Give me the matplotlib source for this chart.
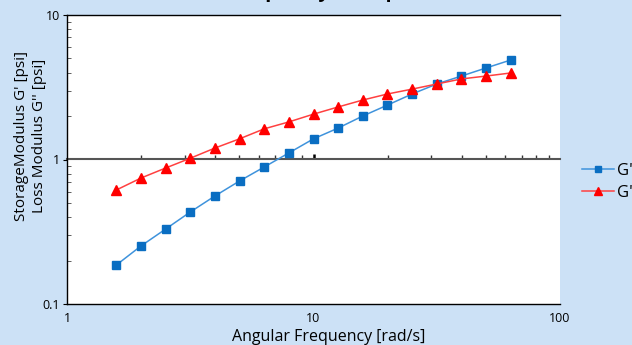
import numpy as np
import matplotlib
matplotlib.use('Agg')
import matplotlib.pyplot as plt
from matplotlib.ticker import LogLocator, NullFormatter

plt.rcParams['font.family'] = ['Open Sans', 'DejaVu Sans']

# angular frequency, rad/s
freq = [1.585, 1.995, 2.512, 3.162, 3.981, 5.012, 6.310, 7.943, 10.0,
        12.59, 15.85, 19.95, 25.12, 31.62, 39.81, 50.12, 63.10]
# storage modulus G', psi
g_storage = [0.186, 0.252, 0.330, 0.433, 0.559, 0.710, 0.887, 1.11, 1.39,
             1.65, 2.00, 2.38, 2.84, 3.33, 3.78, 4.30, 4.88]
# loss modulus G'', psi
g_loss = [0.615, 0.744, 0.873, 1.02, 1.20, 1.39, 1.63, 1.82, 2.06,
          2.31, 2.58, 2.84, 3.07, 3.33, 3.61, 3.78, 3.97]

BG = '#cce1f6'


def main():
    fig = plt.figure(figsize=(6.32, 3.45), dpi=100, facecolor=BG)
    ax = fig.add_axes([67 / 632, 1 - 304 / 345, 493 / 632, 289 / 345])
    ax.set_facecolor('white')

    l1, = ax.plot(freq, g_storage, color='#3f93dc', lw=1.1, marker='s',
                  ms=5.5, mfc='#0a6ec2', mec='#0a6ec2', label="G'")
    l2, = ax.plot(freq, g_loss, color='#ff4040', lw=1.1, marker='^',
                  ms=7.5, mfc='#ff0000', mec='#ff0000', label="G''")

    ax.set_xscale('log')
    ax.set_yscale('log')
    ax.set_xlim(1, 100)
    ax.set_ylim(0.1, 10)

    ax.spines['right'].set_visible(False)
    for s in ('left', 'top', 'bottom'):
        ax.spines[s].set_color('black')
        ax.spines[s].set_linewidth(1.0)

    ax.set_yticks([0.1, 1, 10])
    ax.set_yticklabels(['0.1', '1', '10'])
    ax.yaxis.set_minor_locator(LogLocator(base=10, subs=np.arange(2, 10)))
    ax.yaxis.set_minor_formatter(NullFormatter())
    ax.tick_params(axis='y', which='major', direction='out', length=3,
                   labelsize=9, pad=2)
    ax.tick_params(axis='y', which='minor', direction='in', length=3,
                   color='#444444')

    ax.set_xticks([1, 10, 100])
    ax.set_xticklabels(['1', '10', '100'])
    ax.xaxis.set_minor_formatter(NullFormatter())
    ax.tick_params(axis='x', which='both', length=0, labelsize=9, pad=6)

    # x axis line crossing at G = 1, ticks pointing up
    sec = ax.secondary_xaxis(0.5)
    for sp in sec.spines.values():
        sp.set_color('#555555')
        sp.set_linewidth(1.5)
    sec.set_xticks([10])
    sec.xaxis.set_minor_locator(LogLocator(base=10, subs=np.arange(2, 10)))
    sec.xaxis.set_minor_formatter(NullFormatter())
    sec.tick_params(axis='x', which='minor', direction='out', length=3,
                    width=1.0, color='#333333', labeltop=False,
                    labelbottom=False)
    sec.tick_params(axis='x', which='major', direction='out', length=3.5,
                    width=1.8, color='black', labeltop=False,
                    labelbottom=False)

    ax.set_xlabel('Angular Frequency [rad/s]', fontsize=11.5)
    ax.xaxis.set_label_coords(0.530, -0.085)
    ax.set_ylabel("StorageModulus G' [psi]\nLoss Modulus G'' [psi]",
                  fontsize=11, linespacing=1.3)
    ax.yaxis.set_label_coords(-0.040, 0.583)

    fig.text(0.495, 1.0 + 3 / 345, 'Frequency Sweep', ha='center',
             va='baseline', fontsize=14, fontweight='bold')

    fig.legend(handles=[l1, l2], loc='upper left',
               bbox_to_anchor=(582 / 632, 1 - 163 / 345), frameon=False,
               fontsize=12, handlelength=1.9, handletextpad=0.2,
               labelspacing=0.35, borderaxespad=0, borderpad=0,
               markerscale=0.85)

    fig.savefig('out.png', dpi=100, facecolor=BG)


if __name__ == '__main__':
    main()
